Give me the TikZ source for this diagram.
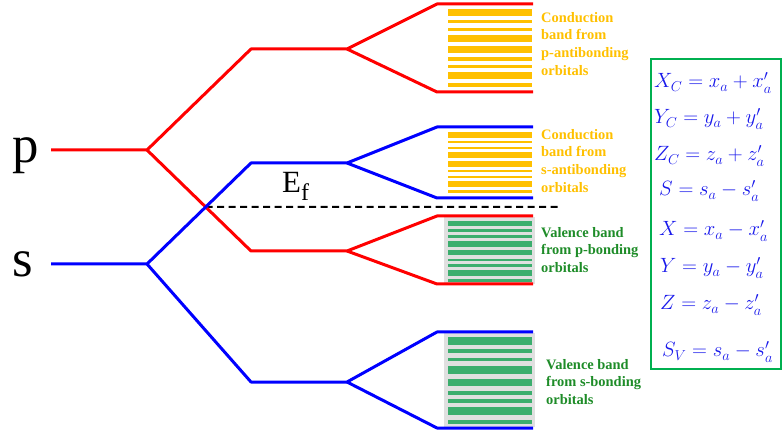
\documentclass[tikz,border=0pt]{standalone}
\usepackage{fontspec}
\setmainfont{Liberation Serif}
\usetikzlibrary{calc}
\definecolor{lred}{RGB}{255,0,0}
\definecolor{lblue}{RGB}{0,0,255}
\definecolor{cband}{RGB}{255,192,0}
\definecolor{vband}{RGB}{60,174,110}
\definecolor{vtext}{RGB}{30,140,40}
\definecolor{bgray}{RGB}{224,224,224}
\definecolor{eqblue}{RGB}{25,25,235}
\definecolor{boxgreen}{RGB}{0,176,80}
\newcommand{\bandstripes}[3]{%
  \foreach \fa/\fb in {0/0.087,0.138/0.181,0.238/0.28,0.328/0.422,0.478/0.568,0.62/0.664,0.716/0.758,0.81/0.904,0.956/1}{%
    \fill[#3] (448,{#1+\fa*(#2-#1)}) rectangle (532,{#1+\fb*(#2-#1)});
  }%
}
\begin{document}
\begin{tikzpicture}[x=1bp,y=-1bp,
  lvl/.style={line width=3bp,line join=round},
  redl/.style={lvl,draw=lred},
  bluel/.style={lvl,draw=lblue},
  orblab/.style={font=\fontsize{53}{53}\selectfont,anchor=base},
  clab/.style={font=\bfseries\fontsize{14.5}{17.7}\selectfont,text=cband,align=left,anchor=north west,inner sep=0pt},
  vlab/.style={font=\bfseries\fontsize{14.5}{17.7}\selectfont,text=vtext,align=left,anchor=north west,inner sep=0pt},
  eq/.style={font=\fontsize{22}{22}\selectfont,text=eqblue,anchor=base west,inner sep=0pt}
]
\useasboundingbox (0,0) rectangle (782,436);

% band backgrounds and stripes
\fill[bgray] (444,217) rectangle (535,284);
\fill[bgray] (444,333) rectangle (535,427);
\bandstripes{9.3}{86.7}{cband}
\bandstripes{132.3}{192.7}{cband}
\bandstripes{221}{281.7}{vband}
\bandstripes{337.3}{423.7}{vband}

% coordinates
\coordinate (pL) at (51,150); \coordinate (pS) at (147,150);
\coordinate (sL) at (51,264); \coordinate (sS) at (147,264);
\coordinate (a1) at (251,49);  \coordinate (a2) at (347,49);
\coordinate (a3) at (437,4);   \coordinate (a4) at (533,4);
\coordinate (a5) at (437,92);  \coordinate (a6) at (533,92);
\coordinate (b1) at (251,163); \coordinate (b2) at (347,163);
\coordinate (b3) at (437,127); \coordinate (b4) at (533,127);
\coordinate (b5) at (437,198); \coordinate (b6) at (533,198);
\coordinate (c1) at (251,251); \coordinate (c2) at (347,251);
\coordinate (c3) at (437,216); \coordinate (c4) at (533,216);
\coordinate (c5) at (437,284); \coordinate (c6) at (533,284);
\coordinate (d1) at (251,382); \coordinate (d2) at (347,382);
\coordinate (d3) at (437,332); \coordinate (d4) at (533,332);
\coordinate (d5) at (437,428); \coordinate (d6) at (533,428);
\coordinate (cross) at ($(pS)!0.564!(c1)$);
\coordinate (efR) at (558,207);

% Fermi level
\draw[line width=2bp,dash pattern=on 7bp off 4.5bp] (cross) -- (efR);

% red (p) levels
\draw[redl] (pL) -- (pS) -- (a1) -- (a2) -- (a3) -- (a4);
\draw[redl] (a2) -- (a5) -- (a6);
\draw[redl] (pS) -- (c1) -- (c2) -- (c3) -- (c4);
\draw[redl] (c2) -- (c5) -- (c6);
% blue (s) levels
\draw[bluel] (sL) -- (sS) -- (b1) -- (b2) -- (b3) -- (b4);
\draw[bluel] (b2) -- (b5) -- (b6);
\draw[bluel] (sS) -- (d1) -- (d2) -- (d3) -- (d4);
\draw[bluel] (d2) -- (d5) -- (d6);

% orbital labels
\node[orblab] (plab) at (26,163) {p};
\node[orblab] (slab) at (23,277) {s};
\node[anchor=base west,inner sep=0pt,font=\fontsize{31}{31}\selectfont] (ef) at (282,193) {E\raisebox{-8bp}{\fontsize{24}{24}\selectfont f}};

% band labels
\node[clab] (l1) at (541,12) {Conduction\\band from\\p-antibonding\\orbitals};
\node[clab] (l2) at (541,129) {Conduction\\band from\\s-antibonding\\orbitals};
\node[vlab] (l3) at (541,227) {Valence band\\from p-bonding\\orbitals};
\node[vlab] (l4) at (546,359) {Valence band\\from s-bonding\\orbitals};

% equation box
\draw[boxgreen,line width=1.5bp] (651,59) rectangle (781,369);
\node[eq] (e1) at (654,88) {$X_C = x_a + x'_a$};
\node[eq] (e2) at (654,124) {$Y_C = y_a + y'_a$};
\node[eq] (e3) at (654,161) {$Z_C = z_a + z'_a$};
\node[eq] (e4) at (659,196) {$S = s_a - s'_a$};
\node[eq] (e5) at (659,236) {$X = x_a - x'_a$};
\node[eq] (e6) at (660,273) {$Y = y_a - y'_a$};
\node[eq] (e7) at (660,310) {$Z = z_a - z'_a$};
\node[eq] (e8) at (662,357) {$S_V = s_a - s'_a$};
\end{tikzpicture}
\end{document}
